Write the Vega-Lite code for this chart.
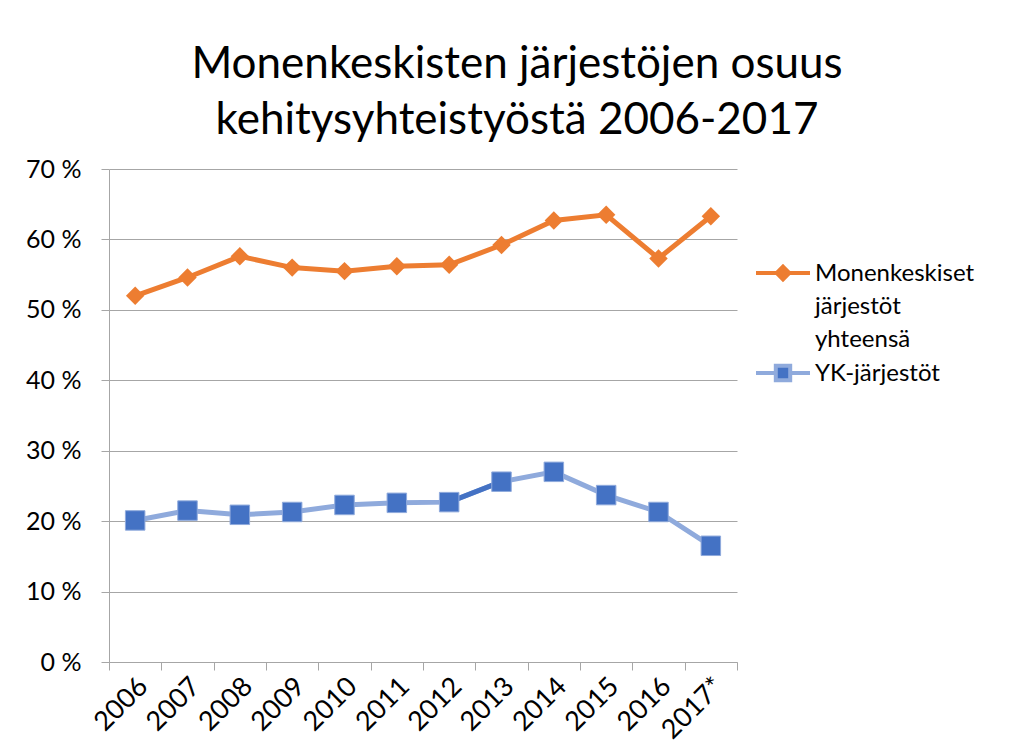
{
  "$schema": "https://vega.github.io/schema/vega-lite/v6.json",
  "width": 628,
  "height": 493,
  "autosize": {"type": "none"},
  "padding": {"left": 109, "top": 169, "right": 281, "bottom": 94},
  "background": "white",
  "title": {
    "text": ["Monenkeskisten järjestöjen osuus", "kehitysyhteistyöstä 2006-2017"],
    "font": "Lato",
    "fontSize": 44,
    "fontWeight": "normal",
    "color": "#000000",
    "anchor": "middle",
    "frame": "group",
    "dx": 94,
    "offset": 14,
    "lineHeight": 56
  },
  "config": {"view": {"stroke": null}, "font": "Lato"},
  "data": {
    "values": [
      {"year": "2006", "series": "Monenkeskiset järjestöt yhteensä", "value": 52.0},
      {"year": "2007", "series": "Monenkeskiset järjestöt yhteensä", "value": 54.6},
      {"year": "2008", "series": "Monenkeskiset järjestöt yhteensä", "value": 57.6},
      {"year": "2009", "series": "Monenkeskiset järjestöt yhteensä", "value": 56.0},
      {"year": "2010", "series": "Monenkeskiset järjestöt yhteensä", "value": 55.5},
      {"year": "2011", "series": "Monenkeskiset järjestöt yhteensä", "value": 56.2},
      {"year": "2012", "series": "Monenkeskiset järjestöt yhteensä", "value": 56.4},
      {"year": "2013", "series": "Monenkeskiset järjestöt yhteensä", "value": 59.2},
      {"year": "2014", "series": "Monenkeskiset järjestöt yhteensä", "value": 62.7},
      {"year": "2015", "series": "Monenkeskiset järjestöt yhteensä", "value": 63.5},
      {"year": "2016", "series": "Monenkeskiset järjestöt yhteensä", "value": 57.3},
      {"year": "2017*", "series": "Monenkeskiset järjestöt yhteensä", "value": 63.3},
      {"year": "2006", "series": "YK-järjestöt", "value": 20.1},
      {"year": "2007", "series": "YK-järjestöt", "value": 21.5},
      {"year": "2008", "series": "YK-järjestöt", "value": 20.9},
      {"year": "2009", "series": "YK-järjestöt", "value": 21.3},
      {"year": "2010", "series": "YK-järjestöt", "value": 22.3},
      {"year": "2011", "series": "YK-järjestöt", "value": 22.6},
      {"year": "2012", "series": "YK-järjestöt", "value": 22.7},
      {"year": "2013", "series": "YK-järjestöt", "value": 25.6},
      {"year": "2014", "series": "YK-järjestöt", "value": 27.0},
      {"year": "2015", "series": "YK-järjestöt", "value": 23.7},
      {"year": "2016", "series": "YK-järjestöt", "value": 21.3},
      {"year": "2017*", "series": "YK-järjestöt", "value": 16.5}
    ]
  },
  "encoding": {
    "x": {
      "field": "year",
      "type": "nominal",
      "sort": null,
      "scale": {"type": "band", "paddingInner": 0, "paddingOuter": 0},
      "axis": {
        "title": null,
        "labelAngle": -45,
        "labelAlign": "right",
        "labelBaseline": "middle",
        "labelFont": "Lato",
        "labelFontSize": 27,
        "labelColor": "#000000",
        "tickBand": "extent",
        "tickSize": 8,
        "tickColor": "#A6A6A6",
        "domainColor": "#A6A6A6",
        "labelPadding": 12,
        "labelOffset": 8,
        "grid": false
      }
    },
    "y": {
      "field": "value",
      "type": "quantitative",
      "scale": {"domain": [0, 70]},
      "axis": {
        "title": null,
        "values": [0, 10, 20, 30, 40, 50, 60, 70],
        "labelExpr": "datum.value + ' %'",
        "labelFont": "Lato",
        "labelFontSize": 25,
        "labelColor": "#000000",
        "tickSize": 8,
        "tickColor": "#A6A6A6",
        "domainColor": "#A6A6A6",
        "gridColor": "#A6A6A6",
        "labelPadding": 20
      }
    }
  },
  "layer": [
    {
      "mark": {"type": "line", "strokeWidth": 5},
      "encoding": {
        "color": {
          "field": "series",
          "type": "nominal",
          "scale": {
            "domain": ["Monenkeskiset järjestöt yhteensä", "YK-järjestöt"],
            "range": ["#ED7D31", "#8FAADC"]
          },
          "legend": {
            "orient": "none",
            "legendX": 662,
            "legendY": 92,
            "title": null,
            "padding": 0,
            "labelFont": "Lato",
            "labelFontSize": 24,
            "labelColor": "#000000",
            "labelLimit": 0,
            "labelBaseline": "alphabetic",
            "labelOffset": 20,
            "symbolOffset": 0,
            "symbolSize": 324,
            "symbolStrokeWidth": 4,
            "rowPadding": 5,
            "labelExpr": "datum.label == 'Monenkeskiset järjestöt yhteensä' ? ['Monenkeskiset', 'järjestöt', 'yhteensä'] : datum.label",
            "encode": {
              "symbols": {
                "update": {
                  "shape": {"signal": "datum.value == 'YK-järjestöt' ? 'M-0.8,-0.8H0.8V0.8H-0.8Z M-3,0H-0.8 M0.8,0H3' : 'M0,-0.7L0.7,0L0,0.7L-0.7,0Z M-3,0H-0.7 M0.7,0H3'"},
                  "fill": {"signal": "datum.value == 'YK-järjestöt' ? '#4472C4' : '#ED7D31'"},
                  "stroke": {"signal": "datum.value == 'YK-järjestöt' ? '#8FAADC' : '#ED7D31'"},
                  "strokeWidth": {"value": 4},
                  "opacity": {"value": 1}
                }
              },
              "labels": {"update": {"dy": {"value": 8}, "lineHeight": {"value": 33}}}
            }
          }
        }
      }
    },
    {
      "transform": [
        {"filter": "datum.series == 'YK-järjestöt' && (datum.year == '2012' || datum.year == '2013')"}
      ],
      "mark": {"type": "line", "strokeWidth": 5, "color": "#4472C4"},
      "encoding": {}
    },
    {
      "transform": [{"filter": "datum.series == 'Monenkeskiset järjestöt yhteensä'"}],
      "mark": {"type": "point", "shape": "diamond", "filled": true, "size": 340, "color": "#ED7D31", "opacity": 1},
      "encoding": {}
    },
    {
      "transform": [{"filter": "datum.series == 'YK-järjestöt'"}],
      "mark": {"type": "point", "shape": "square", "filled": true, "size": 380, "fill": "#4472C4", "stroke": "#8FAADC", "strokeWidth": 1, "opacity": 1},
      "encoding": {}
    }
  ]
}
